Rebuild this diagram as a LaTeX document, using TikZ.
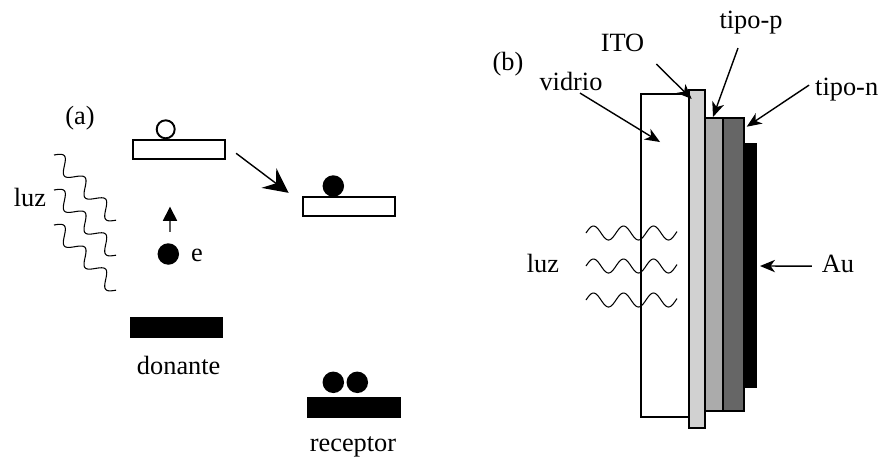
\documentclass[tikz,border=0pt]{standalone}
\usepackage{fontspec}
\setmainfont{Liberation Serif}
\usetikzlibrary{arrows.meta}

\tikzset{
  lbl/.style={font=\fontsize{15}{18}\selectfont, inner sep=1pt, anchor=base},
  level/.style={draw, line width=1.1pt, minimum width=1.85cm, minimum height=0.38cm, inner sep=0},
  band/.style={fill=black, minimum width=1.87cm, minimum height=0.42cm, inner sep=0},
  hole/.style={circle, draw, line width=1.1pt, minimum size=0.36cm, inner sep=0},
  dot/.style={circle, fill=black, minimum size=0.43cm, inner sep=0},
  layer/.style={draw, line width=1.1pt},
  wave/.style={line width=0.6pt},
  ptr/.style={line width=0.8pt, -{Stealth[length=8.5pt, width=7pt, inset=2.5pt]}},
  bigarr/.style={line width=0.8pt, -{Stealth[length=14pt, width=14pt, inset=5pt]}},
  uparr/.style={line width=0.8pt, -{Triangle[length=8pt, width=8pt]}}
}

\begin{document}
\begin{tikzpicture}[x=0.02cm, y=-0.02cm]
\useasboundingbox (0,0) rectangle (881,457);

% (a) levels
\node[lbl] (a-lab) at (80,124) {(a)};
\node[level] (don-up) at (178.9,149.3) {};
\node[level] (acc-up) at (349.2,206.7) {};
\node[band] (don-low) at (176.7,327.8) {};
\node[band] (acc-low) at (354,407.5) {};
\node[lbl] (donante) at (178.7,374) {donante};
\node[lbl] (receptor) at (353,451.7) {receptor};

% charges
\node[hole] (hole) at (165.7,129.3) {};
\node[dot] (acc-dot) at (333.3,186) {};
\node[dot] (e-dot) at (168.3,254) {};
\node[lbl, anchor=base west] (e-lab) at (189,261) {e};
\node[dot] (rec-dot1) at (333.3,382.3) {};
\node[dot] (rec-dot2) at (357.3,382.3) {};

% transfer
\coordinate (e-up) at (170,206.7);
\draw[uparr] ([shift={(1.7,-11)}]e-dot.north) -- (e-up);
\draw[bigarr] ([shift={(10,4)}]don-up.east) -- ([shift={(-13.4,-3.4)}]acc-up.north west);

% light (a)
\node[lbl] (luz-a) at (30,206) {luz};
\foreach \y in {155,190,225}
  \draw[wave, shift={(54,\y)}, rotate=-46.4]
    plot[domain=0:90, samples=90, smooth] (\x, {-7*sin(\x*12)});

% (b) cell
\node[lbl] (b-lab) at (508,70) {(b)};
\draw[layer, fill=white] (641,94.3) rectangle (689.3,417);
\draw[layer, fill=black!18] (689.3,90) rectangle (705.3,428.3);
\draw[layer, fill=black!33] (705.3,117.7) rectangle (723.3,410.7);
\draw[layer, fill=black!60] (723.3,117.7) rectangle (744.3,410.7);
\fill[black] (744.3,142.7) rectangle (756.7,388.3);

% light (b)
\node[lbl] (luz-b) at (543,272.7) {luz};
\foreach \y in {233,266,300}
  \draw[wave, shift={(586,\y)}]
    plot[domain=0:91, samples=90, smooth] (\x, {-7*sin(\x*12)});

% labels
\node[lbl] (vidrio) at (571,90.7) {vidrio};
\node[lbl] (ITO) at (622.5,51.7) {ITO};
\node[lbl] (tipo-p) at (751,28.3) {tipo-p};
\node[lbl] (tipo-n) at (846.7,95) {tipo-n};
\node[lbl] (Au) at (838,272.7) {Au};

\coordinate (vid-tip) at (660,142);
\coordinate (ito-tip) at (691.7,99);
\coordinate (p-tip) at (713,117);
\coordinate (n-tip) at (746.7,126.7);
\coordinate (au-tip) at (760,266);

\draw[ptr] ([shift={(9,0)}]vidrio.south) -- (vid-tip);
\draw[ptr] ([shift={(10,10)}]ITO.south east) -- (ito-tip);
\draw[ptr] ([shift={(-13,12)}]tipo-p.south) -- (p-tip);
\draw[ptr] ([shift={(-4,-4)}]tipo-n.west) -- (n-tip);
\draw[ptr] ([shift={(-8,2)}]Au.west) -- (au-tip);

\end{tikzpicture}
\end{document}
